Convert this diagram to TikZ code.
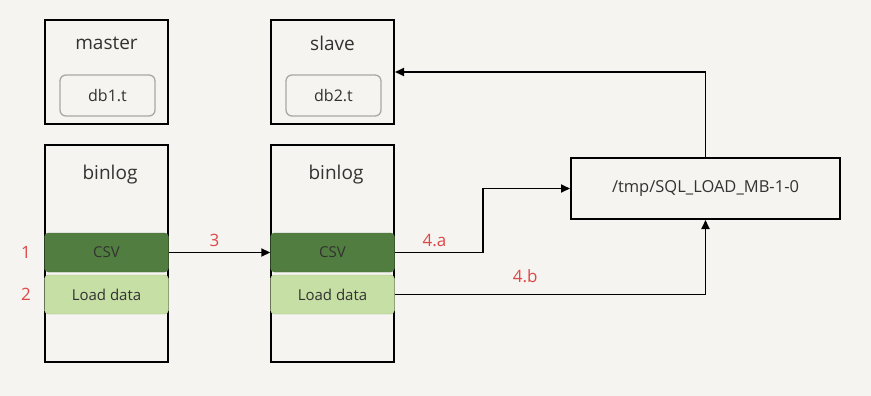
\documentclass[tikz,border=0pt]{standalone}
\usepackage{fontspec}
\setmainfont{Open Sans}
\usetikzlibrary{arrows.meta, positioning, backgrounds}
\definecolor{paperbg}{RGB}{245,244,240}
\definecolor{csvgreen}{RGB}{82,125,64}
\definecolor{loadgreen}{RGB}{198,223,164}
\definecolor{steplabel}{RGB}{220,72,72}
\definecolor{dbgray}{RGB}{168,168,168}
\definecolor{inktext}{RGB}{50,50,50}
\tikzset{
  srvbox/.style={draw, line width=2pt, minimum width=123pt, minimum height=104pt, inner sep=0pt},
  logbox/.style={srvbox, minimum height=217pt},
  dbbox/.style={draw=dbgray, line width=1.3pt, rounded corners=6pt, minimum width=95pt, minimum height=41pt, text=inktext, font=\fontsize{16}{18}\selectfont},
  title/.style={text=inktext, font=\fontsize{19}{21}\selectfont},
  evbox/.style={draw=#1!85!black, fill=#1, rounded corners=4pt, minimum width=124pt, minimum height=39pt, inner sep=0pt, text=inktext, font=\fontsize{15}{17}\selectfont},
  filebox/.style={draw, line width=2pt, minimum width=269pt, minimum height=61pt, text=inktext, font=\fontsize{16.5}{18}\selectfont},
  num/.style={text=steplabel, font=\fontsize{17}{19}\selectfont},
  arr/.style={-{Triangle[length=9pt, width=8pt]}, line width=1.8pt}
}

\begin{document}
\begin{tikzpicture}[x=1pt, y=-1pt]
  \useasboundingbox (0,0) rectangle (871,396);
  \begin{scope}[on background layer]
    \fill[paperbg] (0,0) rectangle (871,396);
  \end{scope}

  % servers
  \node[srvbox] (master) at (106.5,72) {};
  \node[title] (mastername) at (106.5,43) {master};
  \node[dbbox] (db1) at (107.5,95.5) {db1.t};
  \node[srvbox] (slave) at (332.5,72) {};
  \node[title] (slavename) at (332.5,43) {slave};
  \node[dbbox] (db2) at (333.5,95.5) {db2.t};

  % binlogs
  \node[logbox] (logL) at (106.5,253.5) {};
  \node[title] (logLname) at (110,175) {binlog};
  \node[evbox=csvgreen] (csvL) at (106.5,252.5) {CSV};
  \node[evbox=loadgreen] (loadL) at (106.5,294.5) {Load data};
  \node[logbox] (logR) at (332.5,253.5) {};
  \node[title] (logRname) at (336,175) {binlog};
  \node[evbox=csvgreen] (csvR) at (332.5,252.5) {CSV};
  \node[evbox=loadgreen] (loadR) at (332.5,294.5) {Load data};

  \node[num, left=10pt of csvL] (n1) {1};
  \node[num, left=10pt of loadL] (n2) {2};

  % temp file
  \node[filebox] (tmp) at (705.5,188.5) {/tmp/SQL\_LOAD\_MB-1-0};
  \coordinate (bendA) at (483,252.5);

  \draw[arr] (csvL) -- node[num, above=2pt, pos=0.45] {3} (csvR);
  \draw[arr] (csvR) -- node[num, above=2pt, pos=0.45] {4.a} (bendA) |- (tmp);
  \draw[arr] (loadR) -| node[num, above=8pt, pos=0.21] {4.b} (tmp);
  \draw[arr] (tmp) |- (slave);
\end{tikzpicture}
\end{document}
